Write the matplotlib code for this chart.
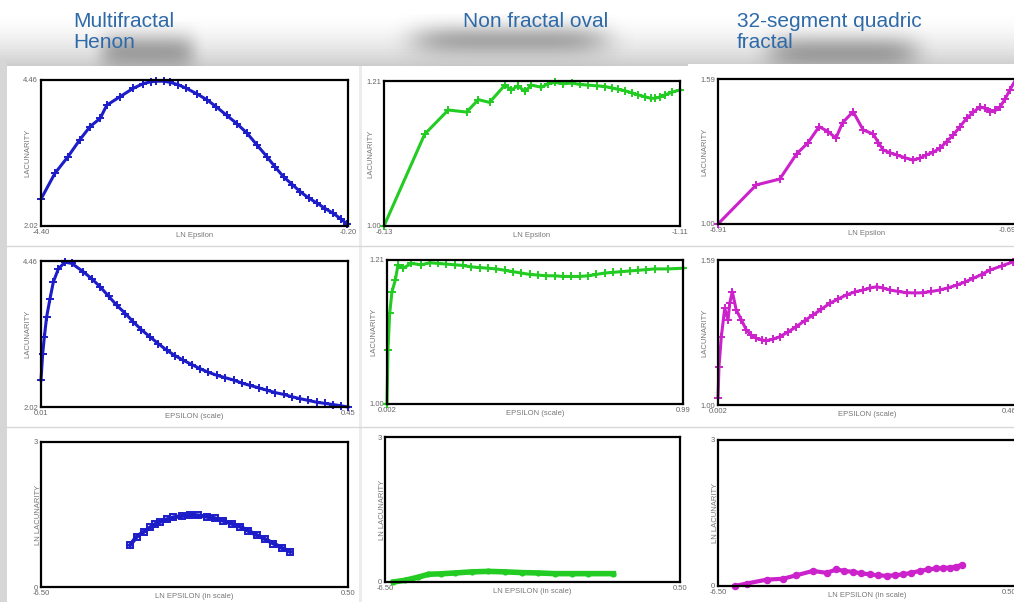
import numpy as np
import matplotlib.pyplot as plt

# ── Data ──
# Row 1: lacunarity vs LN Epsilon
henon_ln_eps = [-4.40, -4.21, -4.03, -3.87, -3.73, -3.59, -3.50, -3.32, -3.14, -3.00,
                -2.90, -2.82, -2.72, -2.63, -2.52, -2.41, -2.27, -2.13, -2.00, -1.86,
                -1.72, -1.58, -1.45, -1.31, -1.20, -1.08, -0.96, -0.85, -0.74, -0.62,
                -0.51, -0.40, -0.30, -0.21]
henon_lac = [2.47, 2.90, 3.18, 3.46, 3.68, 3.82, 4.04, 4.18, 4.32, 4.40,
             4.43, 4.44, 4.44, 4.42, 4.38, 4.32, 4.23, 4.13, 4.01, 3.87,
             3.73, 3.57, 3.38, 3.18, 3.01, 2.84, 2.71, 2.59, 2.49, 2.40,
             2.31, 2.23, 2.14, 2.05]

oval_ln_eps = [-6.13, -5.44, -5.04, -4.73, -4.53, -4.34, -4.08, -3.97, -3.86, -3.74,
               -3.63, -3.46, -3.35, -3.23, -3.09, -2.95, -2.81, -2.67, -2.52, -2.38,
               -2.27, -2.16, -2.05, -1.93, -1.82, -1.70, -1.61, -1.53, -1.45, -1.36,
               -1.24, -1.11]
oval_lac = [1.000, 1.133, 1.168, 1.165, 1.183, 1.179, 1.204, 1.197, 1.203, 1.195,
            1.204, 1.201, 1.206, 1.208, 1.206, 1.207, 1.205, 1.204, 1.203, 1.202,
            1.200, 1.198, 1.196, 1.193, 1.190, 1.187, 1.185, 1.185, 1.187, 1.190,
            1.194, 1.197]

quad_ln_eps = [-6.91, -6.11, -5.62, -5.27, -5.03, -4.80, -4.61, -4.45, -4.31, -4.09,
               -3.88, -3.67, -3.56, -3.46, -3.32, -3.18, -3.01, -2.84, -2.70, -2.56,
               -2.42, -2.28, -2.14, -2.00, -1.86, -1.72, -1.58, -1.44, -1.33, -1.23,
               -1.12, -1.02, -0.92, -0.82, -0.69]
quad_lac = [1.000, 1.159, 1.183, 1.285, 1.331, 1.396, 1.376, 1.349, 1.412, 1.457,
            1.383, 1.366, 1.330, 1.301, 1.290, 1.281, 1.270, 1.260, 1.268, 1.281,
            1.292, 1.308, 1.335, 1.362, 1.396, 1.430, 1.455, 1.477, 1.470, 1.457,
            1.462, 1.477, 1.508, 1.545, 1.590]

# Row 2: lacunarity vs EPSILON (scale)
henon_eps = [0.010, 0.0124, 0.0148, 0.018, 0.0229, 0.0277, 0.0349, 0.0444, 0.054, 0.0707,
             0.083, 0.0947, 0.107, 0.1186, 0.131, 0.1425, 0.154, 0.1664, 0.178, 0.190,
             0.202, 0.214, 0.226, 0.238, 0.250, 0.262, 0.274, 0.286, 0.298, 0.310,
             0.322, 0.334, 0.346, 0.358, 0.370, 0.381, 0.393, 0.405, 0.417, 0.429,
             0.440, 0.450]
henon_lac2 = [2.47, 2.91, 3.19, 3.52, 3.83, 4.11, 4.33, 4.44, 4.42, 4.28,
              4.16, 4.03, 3.87, 3.72, 3.58, 3.44, 3.31, 3.19, 3.08, 2.97,
              2.88, 2.80, 2.73, 2.66, 2.60, 2.55, 2.51, 2.47, 2.42, 2.38,
              2.34, 2.30, 2.26, 2.23, 2.19, 2.16, 2.13, 2.10, 2.08, 2.06,
              2.04, 2.02]

oval_eps = [0.002, 0.0053, 0.0109, 0.0187, 0.0298, 0.0387, 0.0554, 0.0832, 0.117, 0.145,
            0.172, 0.200, 0.228, 0.256, 0.284, 0.311, 0.339, 0.367, 0.395, 0.422,
            0.450, 0.478, 0.506, 0.534, 0.562, 0.589, 0.617, 0.645, 0.673, 0.701,
            0.729, 0.756, 0.784, 0.812, 0.840, 0.868, 0.895, 0.940, 0.990]
oval_lac2 = [1.000, 1.079, 1.132, 1.164, 1.181, 1.203, 1.198, 1.205, 1.203, 1.206,
             1.205, 1.204, 1.203, 1.202, 1.200, 1.199, 1.198, 1.197, 1.195, 1.193,
             1.191, 1.189, 1.188, 1.187, 1.187, 1.186, 1.186, 1.186, 1.187, 1.189,
             1.191, 1.192, 1.193, 1.194, 1.195, 1.196, 1.197, 1.197, 1.198]

quad_eps = [0.002, 0.0035, 0.0071, 0.0123, 0.0174, 0.020, 0.024, 0.030, 0.038, 0.0456,
            0.053, 0.061, 0.069, 0.0764, 0.087, 0.097, 0.110, 0.1225, 0.135, 0.148,
            0.161, 0.174, 0.187, 0.1995, 0.212, 0.225, 0.235, 0.2457, 0.256, 0.266,
            0.279, 0.292, 0.305, 0.317, 0.330, 0.343, 0.356, 0.369, 0.381, 0.394,
            0.407, 0.420, 0.438, 0.456]
quad_lac2 = [1.03, 1.156, 1.278, 1.393, 1.346, 1.414, 1.461, 1.387, 1.346, 1.305,
             1.285, 1.271, 1.265, 1.262, 1.268, 1.278, 1.298, 1.319, 1.343, 1.366,
             1.390, 1.414, 1.432, 1.448, 1.460, 1.468, 1.476, 1.481, 1.476, 1.468,
             1.462, 1.457, 1.456, 1.457, 1.462, 1.468, 1.477, 1.488, 1.500, 1.515,
             1.531, 1.549, 1.566, 1.583]

# Row 3: LN lacunarity vs LN EPSILON (in scale)
henon_ln_eps3 = [-4.47, -4.32, -4.16, -4.01, -3.90, -3.78, -3.63, -3.48, -3.29, -3.10,
                 -2.91, -2.72, -2.53, -2.34, -2.15, -1.96, -1.77, -1.58, -1.39, -1.20,
                 -1.01, -0.82]
henon_ln_lac = [0.866, 1.04, 1.14, 1.233, 1.30, 1.35, 1.40, 1.44, 1.47, 1.49,
                1.48, 1.455, 1.42, 1.37, 1.31, 1.247, 1.16, 1.074, 0.99, 0.90,
                0.81, 0.727]

oval_ln_eps3 = [-6.30, -6.03, -5.71, -5.47, -5.16, -4.84, -4.44, -4.05, -3.65, -3.26,
                -2.86, -2.47, -2.07, -1.68, -1.08]
oval_ln_lac = [0.0, 0.035, 0.10, 0.16, 0.17, 0.187, 0.21, 0.22, 0.21, 0.195,
               0.187, 0.173, 0.173, 0.173, 0.173]

quad_ln_eps3 = [-6.11, -5.83, -5.36, -4.97, -4.66, -4.27, -3.95, -3.72, -3.53, -3.33,
                -3.13, -2.94, -2.74, -2.54, -2.35, -2.15, -1.96, -1.76, -1.57, -1.37,
                -1.21, -1.05, -0.91, -0.78]
quad_ln_lac = [0.0, 0.05, 0.13, 0.15, 0.22, 0.31, 0.27, 0.34, 0.31, 0.29,
               0.26, 0.24, 0.22, 0.21, 0.22, 0.24, 0.27, 0.31, 0.34, 0.36,
               0.37, 0.38, 0.40, 0.43]

titles = ["Multifractal\nHenon", "Non fractal oval", "32-segment quadric\nfractal"]

BLUE = "#1c1cc8"
GREEN = "#22cc22"
MAGENTA = "#cc22cc"
TITLE_COLOR = "#2f6aa8"

W, H = 1014, 602


def px_rect(left, top, right, bottom):
    """pixel box -> figure fraction [l, b, w, h]"""
    return [left / W, 1 - bottom / H, (right - left) / W, (bottom - top) / H]


def draw_panel(fig, box, x, y, color, xlim, ylim, xticklabels, yticklabels,
               xlabel, ylabel, marker="+", ms=6, lw=2.2, cut_right=False):
    ax = fig.add_axes(px_rect(*box))
    ax.plot(x, y, color=color, lw=lw, marker=marker, ms=ms, mew=1.4,
            mfc="none" if marker == "s" else color, mec=color, clip_on=False)
    ax.set_xlim(*xlim)
    ax.set_ylim(*ylim)
    ax.set_xticks(list(xlim))
    ax.set_xticklabels(xticklabels, fontsize=5.5, color="#666666")
    if cut_right:
        ax.get_xticklabels()[-1].set_ha("right")
    ax.set_yticks(list(ylim))
    ax.set_yticklabels(yticklabels, fontsize=5.5, color="#666666")
    ax.tick_params(length=0, pad=2)
    ax.set_xlabel(xlabel, fontsize=5.5, color="#777777", labelpad=-3)
    ax.set_ylabel(ylabel, fontsize=5.5, color="#777777", labelpad=-6)
    for s in ax.spines.values():
        s.set_linewidth(1.6)
        s.set_color("black")
    ax.set_facecolor("white")
    return ax


plt.rcParams['font.family'] = ['Liberation Sans', 'DejaVu Sans']
fig = plt.figure(figsize=(W / 100, H / 100), dpi=100)

# ── slide background: gray shadow band under titles, white cards ──
bg = fig.add_axes([0, 0, 1, 1])
bg.set_xlim(0, W)
bg.set_ylim(H, 0)
bg.axis("off")
grad = np.linspace(0, 1, 60).reshape(-1, 1)
bg.imshow(1 - 0.2 * grad ** 2, cmap="gray", vmin=0, vmax=1, aspect="auto",
          extent=[0, W, 66, 6])

# soft shadows under the titles
gy, gx = np.mgrid[-1:1:40j, -1:1:120j]
blob = np.exp(-(gy / 0.6) ** 2) * np.exp(-(gx / 0.7) ** 6)
rgba = np.zeros(blob.shape + (4,))
rgba[..., 3] = 0.3 * blob / blob.max()
for x0, x1, y0, y1 in [(80, 215, 22, 80), (370, 650, 14, 66), (735, 950, 24, 80)]:
    bg.imshow(rgba, extent=[x0, x1, y1, y0], aspect="auto", zorder=1)

bg.add_patch(plt.Rectangle((0, 60), 7, H, color="#d6d6d6", lw=0, zorder=2))
bg.add_patch(plt.Rectangle((7, 66), 352, 540, color="white", lw=0, zorder=2))
bg.add_patch(plt.Rectangle((359, 66), 3, 540, color="#ececec", lw=0, zorder=2))
bg.add_patch(plt.Rectangle((362, 66), 326, 540, color="white", lw=0, zorder=2))
bg.add_patch(plt.Rectangle((688, 64), 330, 540, color="white", lw=0, zorder=2))
for yy in (246, 427):
    bg.plot([7, 1014], [yy, yy], color="#d8d8d8", lw=1, zorder=3)

title_pos = [(73, 12), (463, 12), (737, 12)]
for (tx, ty), t in zip(title_pos, titles):
    bg.text(tx, ty, t, fontsize=15, color=TITLE_COLOR, va="top", ha="left",
            linespacing=1.1, zorder=4)

# ── Row 1 ──
draw_panel(fig, (41, 80, 348, 226), henon_ln_eps, henon_lac, BLUE,
           (-4.40, -0.20), (2.02, 4.46), ["-4.40", "-0.20"], ["2.02", "4.46"],
           "LN Epsilon", "LACUNARITY")
draw_panel(fig, (384, 81, 680, 226), oval_ln_eps, oval_lac, GREEN,
           (-6.13, -1.11), (1.00, 1.21), ["-6.13", "-1.11"], ["1.00", "1.21"],
           "LN Epsilon", "LACUNARITY")
draw_panel(fig, (718, 79, 1016, 224), quad_ln_eps, quad_lac, MAGENTA,
           (-6.91, -0.69), (1.00, 1.59), ["-6.91", "-0.69"], ["1.00", "1.59"],
           "LN Epsilon", "LACUNARITY", cut_right=True)

# ── Row 2 ──
draw_panel(fig, (41, 261, 348, 407), henon_eps, henon_lac2, BLUE,
           (0.01, 0.45), (2.02, 4.46), ["0.01", "0.45"], ["2.02", "4.46"],
           "EPSILON (scale)", "LACUNARITY")
draw_panel(fig, (387, 260, 683, 404), oval_eps, oval_lac2, GREEN,
           (0.002, 0.99), (1.00, 1.21), ["0.002", "0.99"], ["1.00", "1.21"],
           "EPSILON (scale)", "LACUNARITY")
draw_panel(fig, (718, 260, 1016, 405), quad_eps, quad_lac2, MAGENTA,
           (0.002, 0.46), (1.00, 1.59), ["0.002", "0.46"], ["1.00", "1.59"],
           "EPSILON (scale)", "LACUNARITY", cut_right=True)

# ── Row 3 ──
draw_panel(fig, (41, 442, 348, 587), henon_ln_eps3, henon_ln_lac, BLUE,
           (-6.50, 0.50), (0, 3), ["-6.50", "0.50"], ["0", "3"],
           "LN EPSILON (in scale)", "LN LACUNARITY", marker="s", ms=5, lw=3)
draw_panel(fig, (385, 437, 680, 582), oval_ln_eps3, oval_ln_lac, GREEN,
           (-6.50, 0.50), (0, 3), ["-6.50", "0.50"], ["0", "3"],
           "LN EPSILON (in scale)", "LN LACUNARITY", marker="o", ms=3, lw=4)
draw_panel(fig, (718, 440, 1016, 586), quad_ln_eps3, quad_ln_lac, MAGENTA,
           (-6.50, 0.50), (0, 3), ["-6.50", "0.50"], ["0", "3"],
           "LN EPSILON (in scale)", "LN LACUNARITY", marker="o", ms=4, lw=3,
           cut_right=True)

fig.savefig("out.png", dpi=100)
